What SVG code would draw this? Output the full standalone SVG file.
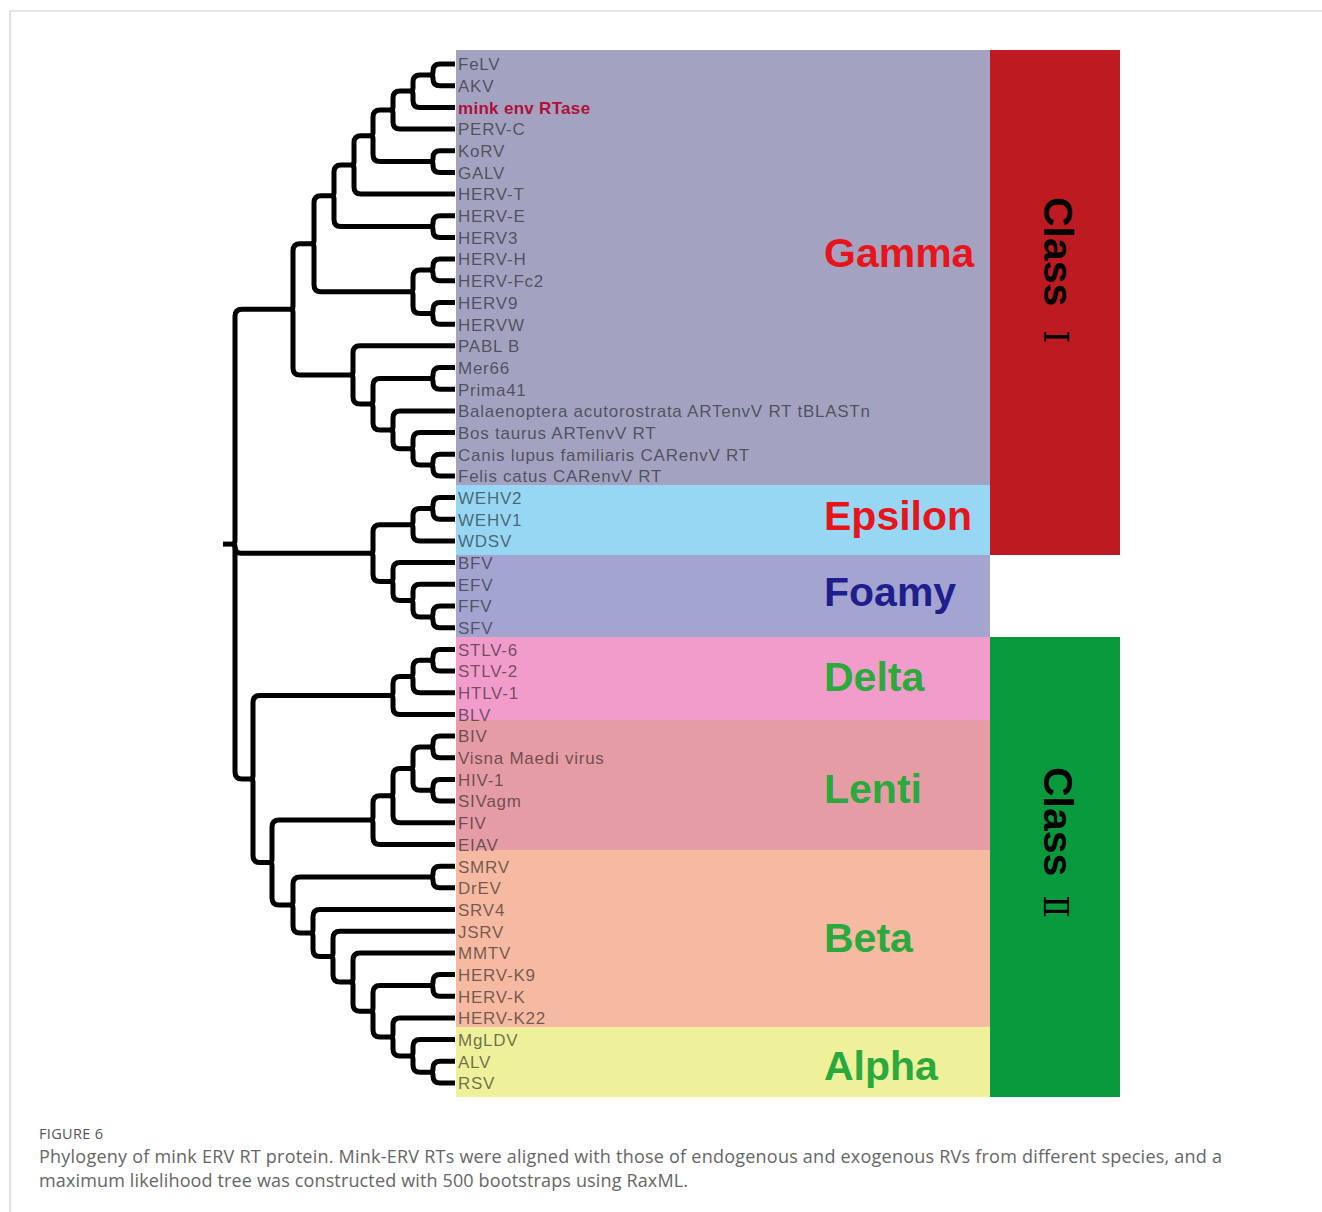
<svg xmlns="http://www.w3.org/2000/svg" width="1322" height="1212" viewBox="0 0 1322 1212">
  <style>
    .br { fill: none; stroke: #000; stroke-width: 5; stroke-linejoin: round; stroke-linecap: butt; }
    .leaf { font-family: "Liberation Sans", Arial, sans-serif; font-size: 17px; letter-spacing: 0.75px; fill: #1a1a1a; fill-opacity: 0.62; }
    .grp { font-family: "Liberation Sans", Arial, sans-serif; font-size: 41px; font-weight: bold; }
    .cls { font-family: "Liberation Sans", Arial, sans-serif; font-size: 41px; font-weight: bold; fill: #000; }
    .num { font-family: "DejaVu Serif", "Liberation Serif", serif; font-size: 34px; font-weight: normal; }
    .cap { font-family: "Open Sans", "Liberation Sans", sans-serif; fill: #666; }
  </style>

  <rect width="1322" height="1212" fill="#fff"/>
  <path d="M10 1212V11H1322" fill="none" stroke="#cfcfcf" stroke-width="1.2"/>

  <!-- clade bands -->
  <g id="bands">
    <rect id="band-gamma" x="456" y="50" width="534" height="435" fill="#a3a3c1"/>
    <rect id="band-epsilon" x="456" y="485" width="534" height="70" fill="#97d7f3"/>
    <rect id="band-foamy" x="456" y="555" width="534" height="82" fill="#a4a4d0"/>
    <rect id="band-delta" x="456" y="637" width="534" height="83" fill="#f29ccb"/>
    <rect id="band-lenti" x="456" y="720" width="534" height="130" fill="#e69ca4"/>
    <rect id="band-beta" x="456" y="850" width="534" height="177" fill="#f6b9a1"/>
    <rect id="band-alpha" x="456" y="1027" width="534" height="70" fill="#eef09a"/>
  </g>

  <!-- class bars -->
  <g id="class-1">
    <rect x="990" y="50" width="130" height="505" fill="#be1a22"/>
    <text class="cls" transform="translate(1044,197) rotate(90)">Class <tspan class="num" x="133">Ⅰ</tspan></text>
  </g>
  <g id="class-2">
    <rect x="990" y="637" width="130" height="460" fill="#089a3c"/>
    <text class="cls" transform="translate(1044,767) rotate(90)">Class <tspan class="num" x="128">Ⅱ</tspan></text>
  </g>

  <!-- clade names -->
  <g id="clade-names" class="grp">
    <text x="824" y="267" fill="#e8141c">Gamma</text>
    <text x="824" y="530" fill="#e8141c">Epsilon</text>
    <text x="824" y="606" fill="#1e1e8c">Foamy</text>
    <text x="824" y="691" fill="#2aa93c">Delta</text>
    <text x="824" y="803" fill="#2aa93c">Lenti</text>
    <text x="824" y="952" fill="#2aa93c">Beta</text>
    <text x="824" y="1080" fill="#2aa93c">Alpha</text>
  </g>

  <!-- tree branches -->
  <g id="connectors" class="br">
    <path d="M430 74.9Q433 74.9 433 71.9V71Q433 64 440 64H455M430 74.9Q433 74.9 433 77.9V78.7Q433 85.7 440 85.7H455"/>
    <path d="M410 91.1Q413 91.1 413 88.1V81.9Q413 74.9 420 74.9H433M410 91.1Q413 91.1 413 94.1V100.4Q413 107.4 420 107.4H455"/>
    <path d="M390 110.1Q393 110.1 393 107.1V98.1Q393 91.1 400 91.1H413M390 110.1Q393 110.1 393 113.1V122Q393 129 400 129H455"/>
    <path d="M430 161.6Q433 161.6 433 158.6V157.7Q433 150.7 440 150.7H455M430 161.6Q433 161.6 433 164.6V165.4Q433 172.4 440 172.4H455"/>
    <path d="M370 135.8Q373 135.8 373 132.8V117.1Q373 110.1 380 110.1H393M370 135.8Q373 135.8 373 138.8V154.6Q373 161.6 380 161.6H433"/>
    <path d="M351 165Q354 165 354 162V142.8Q354 135.8 361 135.8H373M351 165Q354 165 354 168V187.1Q354 194.1 361 194.1H455"/>
    <path d="M430 226.6Q433 226.6 433 223.6V222.8Q433 215.8 440 215.8H455M430 226.6Q433 226.6 433 229.6V230.4Q433 237.4 440 237.4H455"/>
    <path d="M331 195.8Q334 195.8 334 192.8V172Q334 165 341 165H354M331 195.8Q334 195.8 334 198.8V219.6Q334 226.6 341 226.6H433"/>
    <path d="M430 270Q433 270 433 267V266.1Q433 259.1 440 259.1H455M430 270Q433 270 433 273V273.8Q433 280.8 440 280.8H455"/>
    <path d="M430 313.4Q433 313.4 433 310.4V309.5Q433 302.5 440 302.5H455M430 313.4Q433 313.4 433 316.4V317.2Q433 324.2 440 324.2H455"/>
    <path d="M410 291.7Q413 291.7 413 288.7V277Q413 270 420 270H433M410 291.7Q413 291.7 413 294.7V306.4Q413 313.4 420 313.4H433"/>
    <path d="M311 243.7Q314 243.7 314 240.7V202.8Q314 195.8 321 195.8H334M311 243.7Q314 243.7 314 246.7V284.7Q314 291.7 321 291.7H413"/>
    <path d="M430 378.4Q433 378.4 433 375.4V374.5Q433 367.5 440 367.5H455M430 378.4Q433 378.4 433 381.4V382.2Q433 389.2 440 389.2H455"/>
    <path d="M430 465.1Q433 465.1 433 462.1V461.2Q433 454.2 440 454.2H455M430 465.1Q433 465.1 433 468.1V468.9Q433 475.9 440 475.9H455"/>
    <path d="M410 448.8Q413 448.8 413 445.8V439.6Q413 432.6 420 432.6H455M410 448.8Q413 448.8 413 451.8V458.1Q413 465.1 420 465.1H433"/>
    <path d="M390 429.9Q393 429.9 393 426.9V417.9Q393 410.9 400 410.9H455M390 429.9Q393 429.9 393 432.9V441.8Q393 448.8 400 448.8H413"/>
    <path d="M370 404.1Q373 404.1 373 401.1V385.4Q373 378.4 380 378.4H433M370 404.1Q373 404.1 373 407.1V422.9Q373 429.9 380 429.9H393"/>
    <path d="M350 375Q353 375 353 372V352.8Q353 345.8 360 345.8H455M350 375Q353 375 353 378V397.1Q353 404.1 360 404.1H373"/>
    <path d="M290 309.3Q293 309.3 293 306.3V250.7Q293 243.7 300 243.7H314M290 309.3Q293 309.3 293 312.3V368Q293 375 300 375H353"/>

    <path d="M430 508.5Q433 508.5 433 505.5V504.6Q433 497.6 440 497.6H455M430 508.5Q433 508.5 433 511.5V512.3Q433 519.3 440 519.3H455"/>
    <path d="M410 524.7Q413 524.7 413 521.7V515.5Q413 508.5 420 508.5H433M410 524.7Q413 524.7 413 527.7V534Q413 541 420 541H455"/>
    <path d="M430 616.9Q433 616.9 433 613.9V613Q433 606 440 606H455M430 616.9Q433 616.9 433 619.9V620.7Q433 627.7 440 627.7H455"/>
    <path d="M410 600.6Q413 600.6 413 597.6V591.3Q413 584.3 420 584.3H455M410 600.6Q413 600.6 413 603.6V609.9Q413 616.9 420 616.9H433"/>
    <path d="M390 581.6Q393 581.6 393 578.6V569.6Q393 562.6 400 562.6H455M390 581.6Q393 581.6 393 584.6V593.6Q393 600.6 400 600.6H413"/>
    <path d="M370 553.2Q373 553.2 373 550.2V531.7Q373 524.7 380 524.7H413M370 553.2Q373 553.2 373 556.2V574.6Q373 581.6 380 581.6H393"/>

    <path d="M430 660.2Q433 660.2 433 657.2V656.4Q433 649.4 440 649.4H455M430 660.2Q433 660.2 433 663.2V664Q433 671 440 671H455"/>
    <path d="M410 676.5Q413 676.5 413 673.5V667.2Q413 660.2 420 660.2H433M410 676.5Q413 676.5 413 679.5V685.7Q413 692.7 420 692.7H455"/>
    <path d="M390 695.4Q393 695.4 393 692.4V683.5Q393 676.5 400 676.5H413M390 695.4Q393 695.4 393 698.4V707.4Q393 714.4 400 714.4H455"/>

    <path d="M430 747Q433 747 433 744V743.1Q433 736.1 440 736.1H455M430 747Q433 747 433 750V750.8Q433 757.8 440 757.8H455"/>
    <path d="M430 790.3Q433 790.3 433 787.3V786.4Q433 779.4 440 779.4H455M430 790.3Q433 790.3 433 793.3V794.1Q433 801.1 440 801.1H455"/>
    <path d="M410 768.6Q413 768.6 413 765.6V754Q413 747 420 747H433M410 768.6Q413 768.6 413 771.6V783.3Q413 790.3 420 790.3H433"/>
    <path d="M390 795.7Q393 795.7 393 792.7V775.6Q393 768.6 400 768.6H413M390 795.7Q393 795.7 393 798.7V815.8Q393 822.8 400 822.8H455"/>
    <path d="M370 820.1Q373 820.1 373 817.1V802.7Q373 795.7 380 795.7H393M370 820.1Q373 820.1 373 823.1V837.5Q373 844.5 380 844.5H455"/>

    <path d="M430 877Q433 877 433 874V873.2Q433 866.2 440 866.2H455M430 877Q433 877 433 880V880.8Q433 887.8 440 887.8H455"/>
    <path d="M430 985.4Q433 985.4 433 982.4V981.6Q433 974.6 440 974.6H455M430 985.4Q433 985.4 433 988.4V989.2Q433 996.2 440 996.2H455"/>
    <path d="M430 1072.2Q433 1072.2 433 1069.2V1068.3Q433 1061.3 440 1061.3H455M430 1072.2Q433 1072.2 433 1075.2V1076Q433 1083 440 1083H455"/>
    <path d="M410 1055.9Q413 1055.9 413 1052.9V1046.6Q413 1039.6 420 1039.6H455M410 1055.9Q413 1055.9 413 1058.9V1065.2Q413 1072.2 420 1072.2H433"/>
    <path d="M390 1036.9Q393 1036.9 393 1033.9V1024.9Q393 1017.9 400 1017.9H455M390 1036.9Q393 1036.9 393 1039.9V1048.9Q393 1055.9 400 1055.9H413"/>
    <path d="M370 1011.2Q373 1011.2 373 1008.2V992.4Q373 985.4 380 985.4H433M370 1011.2Q373 1011.2 373 1014.2V1029.9Q373 1036.9 380 1036.9H393"/>
    <path d="M350 982Q353 982 353 979V959.9Q353 952.9 360 952.9H455M350 982Q353 982 353 985V1004.2Q353 1011.2 360 1011.2H373"/>
    <path d="M330 956.6Q333 956.6 333 953.6V938.2Q333 931.2 340 931.2H455M330 956.6Q333 956.6 333 959.6V975Q333 982 340 982H353"/>
    <path d="M310 933.1Q313 933.1 313 930.1V916.5Q313 909.5 320 909.5H455M310 933.1Q313 933.1 313 936.1V949.6Q313 956.6 320 956.6H333"/>
    <path d="M290 905Q293 905 293 902V884Q293 877 300 877H433M290 905Q293 905 293 908V926.1Q293 933.1 300 933.1H313"/>
    <path d="M269 862.6Q272 862.6 272 859.6V827.1Q272 820.1 279 820.1H373M269 862.6Q272 862.6 272 865.6V898Q272 905 279 905H293"/>
    <path d="M250 779Q253 779 253 776V702.4Q253 695.4 260 695.4H393M250 779Q253 779 253 782V855.6Q253 862.6 260 862.6H272"/>

    <!-- root -->
    <path d="M232 544.1Q235 544.1 235 541.1V316.3Q235 309.3 242 309.3H293M232 544.1Q235 544.1 235 547.1V772Q235 779 242 779H253"/>
    <path d="M235 547Q235 553.2 241 553.2H373"/>
    <path d="M223 544.1H234"/>
  </g>

  <!-- leaf labels -->
  <g id="leaves" class="leaf">
    <text x="458" y="70.3">FeLV</text>
    <text x="458" y="92">AKV</text>
    <text x="458" y="113.7" font-weight="bold" letter-spacing="0.3" fill="#b01038" fill-opacity="1">mink env RTase</text>
    <text x="458" y="135.3">PERV-C</text>
    <text x="458" y="157">KoRV</text>
    <text x="458" y="178.7">GALV</text>
    <text x="458" y="200.4">HERV-T</text>
    <text x="458" y="222.1">HERV-E</text>
    <text x="458" y="243.7">HERV3</text>
    <text x="458" y="265.4">HERV-H</text>
    <text x="458" y="287.1">HERV-Fc2</text>
    <text x="458" y="308.8">HERV9</text>
    <text x="458" y="330.5">HERVW</text>
    <text x="458" y="352.1">PABL B</text>
    <text x="458" y="373.8">Mer66</text>
    <text x="458" y="395.5">Prima41</text>
    <text x="458" y="417.2">Balaenoptera acutorostrata ARTenvV RT tBLASTn</text>
    <text x="458" y="438.9">Bos taurus ARTenvV RT</text>
    <text x="458" y="460.5">Canis lupus familiaris CARenvV RT</text>
    <text x="458" y="482.2">Felis catus CARenvV RT</text>
    <text x="458" y="503.9">WEHV2</text>
    <text x="458" y="525.6">WEHV1</text>
    <text x="458" y="547.3">WDSV</text>
    <text x="458" y="568.9">BFV</text>
    <text x="458" y="590.6">EFV</text>
    <text x="458" y="612.3">FFV</text>
    <text x="458" y="634">SFV</text>
    <text x="458" y="655.7">STLV-6</text>
    <text x="458" y="677.3">STLV-2</text>
    <text x="458" y="699">HTLV-1</text>
    <text x="458" y="720.7">BLV</text>
    <text x="458" y="742.4">BIV</text>
    <text x="458" y="764.1">Visna Maedi virus</text>
    <text x="458" y="785.7">HIV-1</text>
    <text x="458" y="807.4">SIVagm</text>
    <text x="458" y="829.1">FIV</text>
    <text x="458" y="850.8">EIAV</text>
    <text x="458" y="872.5">SMRV</text>
    <text x="458" y="894.1">DrEV</text>
    <text x="458" y="915.8">SRV4</text>
    <text x="458" y="937.5">JSRV</text>
    <text x="458" y="959.2">MMTV</text>
    <text x="458" y="980.9">HERV-K9</text>
    <text x="458" y="1002.5">HERV-K</text>
    <text x="458" y="1024.2">HERV-K22</text>
    <text x="458" y="1045.9">MgLDV</text>
    <text x="458" y="1067.6">ALV</text>
    <text x="458" y="1089.3">RSV</text>
  </g>

  <!-- figure caption -->
  <g id="caption" class="cap">
    <text x="39" y="1139" font-size="14.5" fill="#555" textLength="64" lengthAdjust="spacing">FIGURE 6</text>
    <text x="39" y="1163" font-size="18" textLength="1183" lengthAdjust="spacing">Phylogeny of mink ERV RT protein. Mink-ERV RTs were aligned with those of endogenous and exogenous RVs from different species, and a</text>
    <text x="39" y="1187" font-size="18" textLength="649" lengthAdjust="spacing">maximum likelihood tree was constructed with 500 bootstraps using RaxML.</text>
  </g>
</svg>
